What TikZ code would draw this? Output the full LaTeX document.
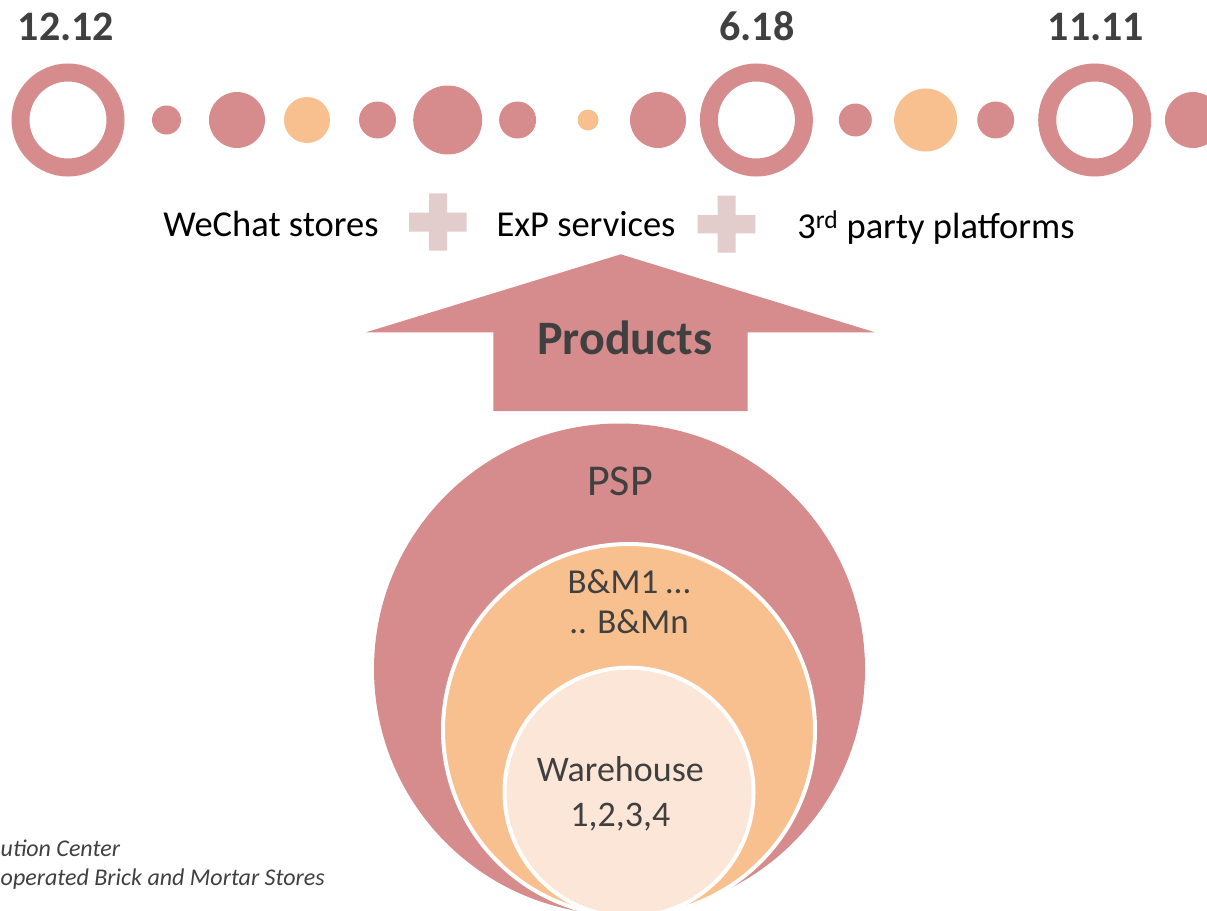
\documentclass[tikz,border=0pt]{standalone}
\usepackage{fontspec}
\setmainfont{Carlito}
\definecolor{pk}{HTML}{D68C8C}
\definecolor{og}{HTML}{F9C08F}
\definecolor{pc}{HTML}{FCE6D8}
\definecolor{pl}{HTML}{E2CCCC}
\definecolor{tx}{HTML}{404040}
\newcommand\setfs[1]{\fontsize{#1}{#1}\selectfont}
\begin{document}
\begin{tikzpicture}[x=1pt,y=-1pt,
  dot/.style={circle,fill=#1,inner sep=0pt,outer sep=0pt,draw=none},
  ring/.style={circle,draw=pk,line width=18pt,inner sep=0pt,minimum size=95pt},
  datelbl/.style={anchor=base,text=tx,font=\setfs{42}\bfseries,inner sep=0pt},
  chan/.style={anchor=base,text=black,font=\setfs{36.5},inner sep=0pt},
  inlbl/.style={anchor=base,text=tx,inner sep=0pt},
  note/.style={anchor=base west,text=tx,font=\setfs{24}\itshape,inner sep=0pt}]
\useasboundingbox (0,0) rectangle (1207,910);
% timeline
\node[ring] (r1) at (68,120) {};
\node[dot=pk,minimum size=29pt] (d1) at (166.5,120) {};
\node[dot=pk,minimum size=56pt] (d2) at (237,120) {};
\node[dot=og,minimum size=46pt] (d3) at (307,120) {};
\node[dot=pk,minimum size=37pt] (d4) at (377.5,120) {};
\node[dot=pk,minimum size=69pt] (d5) at (447.7,120) {};
\node[dot=pk,minimum size=37pt] (d6) at (517.6,120) {};
\node[dot=og,minimum size=21pt] (d7) at (588,120) {};
\node[dot=pk,minimum size=56pt] (d8) at (658,120) {};
\node[ring] (r2) at (756.4,120) {};
\node[dot=pk,minimum size=33pt] (d9) at (855.3,120) {};
\node[dot=og,minimum size=63pt] (d10) at (925.6,120) {};
\node[dot=pk,minimum size=37pt] (d11) at (995.7,120) {};
\node[ring] (r3) at (1094.7,120) {};
\node[dot=pk,minimum size=56pt] (d12) at (1193,120) {};
\node[datelbl] (t1) at (66,40) {12.12};
\node[datelbl] (t2) at (757,40) {6.18};
\node[datelbl] (t3) at (1096,40) {11.11};
% channels
\node[chan] (c1) at (271,236.7) {WeChat stores};
\node[chan] (c2) at (586,236.7) {ExP services};
\node[chan] (c3) at (936,238) {3\textsuperscript{rd} party platforms};
\fill[pl] (429,193.3) rectangle (447,250.7) (409,212.7) rectangle (466.7,231.7);
\fill[pl] (717.7,195.7) rectangle (735.7,252.7) (697.7,215) rectangle (755.3,233.3);
% arrow
\fill[pk] (620.7,254.3) -- (875,332.3) -- (747.7,332.3) -- (747.7,411) -- (493.3,411)
  -- (493.3,332.3) -- (366,332.3) -- cycle;
\node[anchor=base,text=tx,font=\setfs{48}\bfseries,inner sep=0pt] (prod) at (625,354.3) {Products};
% circles
\node[dot=pk,minimum size=491pt] (psp) at (619.5,669) {};
\node[circle,fill=og,draw=white,line width=4pt,inner sep=0pt,minimum size=372pt] (bm) at (629,730) {};
\node[circle,fill=pc,draw=white,line width=4pt,inner sep=0pt,minimum size=249pt] (wh) at (629,792.2) {};
\node[inlbl,font=\setfs{44}] (pspl) at (620,495) {PSP};
\node[inlbl,font=\setfs{35}] (bml1) at (629,593.3) {B\&M1 …};
\node[inlbl,font=\setfs{35}] (bml2) at (629,633.3) {.. B\&Mn};
\node[inlbl,font=\setfs{36}] (whl1) at (620.3,781.7) {Warehouse};
\node[inlbl,font=\setfs{36}] (whl2) at (620.3,826.7) {1,2,3,4};
% notes
\node[note] (n1) at (0.5,856.7) {ution Center};
\node[note] (n2) at (0.5,885.7) {operated Brick and Mortar Stores};
\end{tikzpicture}
\end{document}
